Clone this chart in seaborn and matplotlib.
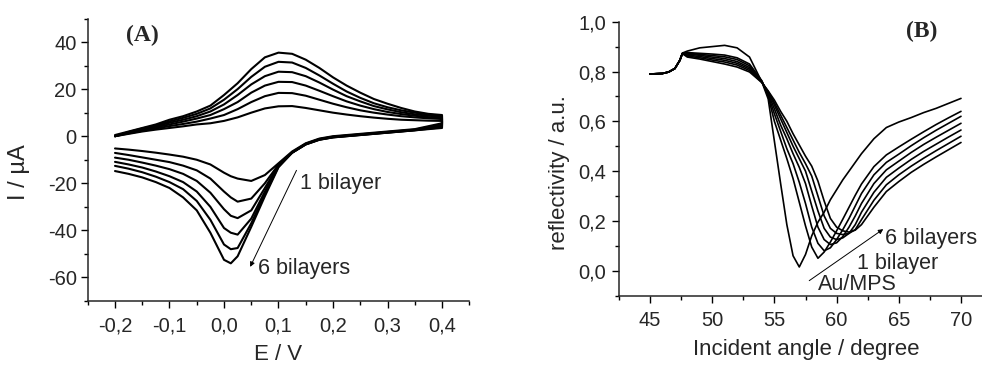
import numpy as np
import pandas as pd
import matplotlib
matplotlib.use("Agg")
import matplotlib.pyplot as plt
import seaborn as sns
from matplotlib.ticker import MultipleLocator, FuncFormatter

# ---------------- Panel A: cyclic voltammograms ----------------
E_anodic = [-0.2, -0.175, -0.15, -0.125, -0.1, -0.075, -0.05, -0.025, 0.0, 0.025,
            0.05, 0.075, 0.1, 0.125, 0.15, 0.175, 0.2, 0.225, 0.25, 0.275,
            0.3, 0.325, 0.35, 0.375, 0.4]
I_anodic_1 = [0, 1, 2, 2.8, 3.5, 4.2, 5, 5.5, 6.5, 8, 10, 11.8, 12.7, 12.8, 12, 11, 10, 9.2, 8.5, 7.9, 7.4, 7, 6.8, 6.6, 6.5]
I_anodic_2 = [0, 1.2, 2.3, 3.3, 4.3, 5.2, 6.2, 7.5, 9, 11.5, 14.5, 17, 18.4, 18.3, 17.2, 15.5, 13.8, 12.3, 11, 10, 9.2, 8.5, 8, 7.6, 7.3]
I_anodic_3 = [0, 1.5, 2.7, 3.8, 5, 6.2, 7.5, 9, 11.5, 14.5, 18.5, 21.5, 23.1, 23, 21.5, 19.3, 17, 14.8, 13, 11.5, 10.3, 9.4, 8.7, 8.1, 7.8]
I_anodic_4 = [0, 1.7, 3, 4.2, 5.7, 7, 8.5, 10.5, 13.5, 17.5, 22, 25.5, 27.4, 27.2, 25.5, 22.8, 19.8, 17, 14.8, 12.8, 11.4, 10.2, 9.3, 8.7, 8.3]
I_anodic_5 = [0, 1.8, 3.3, 4.6, 6.3, 7.8, 9.5, 11.8, 15.5, 20, 25.2, 29.5, 31.6, 31.3, 29, 25.8, 22.3, 19, 16.3, 14, 12.3, 11, 10, 9.2, 8.7]
I_anodic_6 = [0.5, 2, 3.5, 5, 7, 8.5, 10.5, 13, 17.5, 22.5, 28.5, 33.5, 35.5, 35, 32.5, 29, 25, 21.5, 18.5, 15.8, 13.8, 12, 10.5, 9.5, 9]

E_cathodic = [0.4, 0.35, 0.3, 0.25, 0.2, 0.175, 0.15, 0.125, 0.1, 0.075, 0.05, 0.025, 0.0125,
              0.0, -0.025, -0.05, -0.075, -0.1, -0.125, -0.15, -0.175, -0.2]
I_cathodic_1 = [5.5, 3.0, 2.0, 1.0, 0.0, -1.0, -3.0, -6.5, -11.5, -16.5, -19.0, -18.0, -17.0, -15.5, -12.0, -10.0, -8.7, -7.8, -7.0, -6.3, -5.7, -5.2]
I_cathodic_2 = [5.0, 2.8, 1.8, 0.8, -0.2, -1.2, -3.2, -6.8, -12.0, -20.0, -26.5, -27.8, -26.0, -23.5, -18.0, -14.5, -12.5, -11.0, -10.0, -9.0, -8.0, -7.1]
I_cathodic_3 = [4.6, 2.7, 1.7, 0.7, -0.3, -1.3, -3.3, -7.0, -12.3, -22.0, -31.5, -34.8, -33.8, -31.0, -24.0, -19.0, -16.0, -14.0, -12.5, -11.2, -10.0, -9.1]
I_cathodic_4 = [4.2, 2.6, 1.6, 0.6, -0.4, -1.4, -3.4, -7.0, -12.6, -23.5, -35.0, -41.8, -41.0, -39.0, -30.0, -23.5, -19.5, -17.0, -15.0, -13.3, -12.0, -10.9]
I_cathodic_5 = [3.8, 2.5, 1.5, 0.5, -0.5, -1.5, -3.5, -7.0, -12.9, -24.5, -37.0, -47.5, -48.0, -46.0, -35.5, -27.5, -22.5, -19.5, -17.2, -15.3, -13.8, -12.6]
I_cathodic_6 = [3.5, 2.5, 1.5, 0.5, -0.5, -1.5, -3.5, -7.0, -13.2, -25.5, -38.5, -51.0, -54.0, -52.5, -41.0, -31.5, -26.0, -22.0, -19.5, -17.5, -16.0, -14.8]

# ---------------- Panel B: SPR reflectivity curves ----------------
theta = [45, 46, 46.5, 47, 47.4, 47.6, 48, 49, 50, 51, 52, 53, 54,
         54.5, 55, 55.5, 56, 56.5, 57, 57.5, 58, 58.5, 59, 59.5, 60, 60.5, 61, 61.5, 62,
         63, 64, 65, 66, 67, 68, 69, 70]
R_AuMPS = [0.79, 0.792, 0.798, 0.812, 0.845, 0.874, 0.882, 0.895, 0.9, 0.905, 0.895, 0.858, 0.757,
           0.69, 0.52, 0.35, 0.185, 0.06, 0.015, 0.065, 0.14, 0.195, 0.235, 0.285, 0.325, 0.365, 0.4, 0.435, 0.47,
           0.53, 0.575, 0.597, 0.615, 0.635, 0.652, 0.672, 0.692]
R_bl1 = [0.79, 0.792, 0.798, 0.812, 0.845, 0.872, 0.876, 0.873, 0.87, 0.866, 0.855, 0.83, 0.762,
         0.70, 0.60, 0.525, 0.45, 0.37, 0.275, 0.18, 0.095, 0.05, 0.075, 0.115, 0.16, 0.207, 0.255, 0.303, 0.348,
         0.418, 0.465, 0.497, 0.528, 0.558, 0.587, 0.614, 0.64]
R_bl2 = [0.79, 0.792, 0.798, 0.812, 0.845, 0.872, 0.873, 0.869, 0.864, 0.859, 0.848, 0.823, 0.76,
         0.705, 0.63, 0.56, 0.49, 0.43, 0.355, 0.27, 0.175, 0.11, 0.08, 0.092, 0.125, 0.165, 0.21, 0.26, 0.31,
         0.385, 0.435, 0.468, 0.502, 0.534, 0.564, 0.592, 0.62]
R_bl3 = [0.79, 0.792, 0.798, 0.812, 0.845, 0.872, 0.87, 0.865, 0.858, 0.852, 0.84, 0.816, 0.758,
         0.71, 0.65, 0.585, 0.53, 0.47, 0.415, 0.35, 0.26, 0.175, 0.125, 0.105, 0.112, 0.137, 0.175, 0.22, 0.27,
         0.35, 0.405, 0.44, 0.475, 0.507, 0.536, 0.564, 0.592]
R_bl4 = [0.79, 0.792, 0.798, 0.812, 0.845, 0.872, 0.866, 0.86, 0.852, 0.845, 0.833, 0.81, 0.757,
         0.715, 0.665, 0.61, 0.555, 0.50, 0.45, 0.40, 0.32, 0.24, 0.17, 0.135, 0.125, 0.132, 0.15, 0.185, 0.235,
         0.315, 0.375, 0.412, 0.447, 0.479, 0.508, 0.537, 0.565]
R_bl5 = [0.79, 0.792, 0.798, 0.812, 0.845, 0.872, 0.862, 0.855, 0.846, 0.838, 0.826, 0.804, 0.756,
         0.72, 0.675, 0.625, 0.575, 0.525, 0.475, 0.43, 0.38, 0.30, 0.22, 0.17, 0.15, 0.145, 0.15, 0.165, 0.205,
         0.283, 0.345, 0.385, 0.42, 0.452, 0.482, 0.511, 0.54]
R_bl6 = [0.79, 0.792, 0.798, 0.812, 0.845, 0.872, 0.858, 0.85, 0.84, 0.83, 0.818, 0.798, 0.755,
         0.722, 0.685, 0.64, 0.60, 0.55, 0.505, 0.46, 0.42, 0.36, 0.28, 0.21, 0.175, 0.16, 0.155, 0.163, 0.185,
         0.255, 0.318, 0.358, 0.395, 0.427, 0.457, 0.486, 0.515]

# ---------------- build tables ----------------
anodic = [I_anodic_1, I_anodic_2, I_anodic_3, I_anodic_4, I_anodic_5, I_anodic_6]
cathodic = [I_cathodic_1, I_cathodic_2, I_cathodic_3, I_cathodic_4, I_cathodic_5, I_cathodic_6]
rows = []
for k, (a, c) in enumerate(zip(anodic, cathodic)):
    order = 0
    for e, i in zip(E_anodic, a):
        rows.append(dict(curve=k, order=order, E=e, I=i)); order += 1
    for e, i in zip(E_cathodic, c):
        rows.append(dict(curve=k, order=order, E=e, I=i)); order += 1
cv = pd.DataFrame(rows)

spr_series = {"Au/MPS": R_AuMPS, "1": R_bl1, "2": R_bl2, "3": R_bl3, "4": R_bl4, "5": R_bl5, "6": R_bl6}
spr = pd.concat([pd.DataFrame(dict(curve=n, theta=theta, R=v)) for n, v in spr_series.items()])

# ---------------- style ----------------
sns.set_style("ticks")
plt.rcParams['font.family'] = ['Liberation Sans', 'DejaVu Sans']
plt.rcParams['axes.linewidth'] = 1.1

W, H = 982, 365
fig = plt.figure(figsize=(W / 100, H / 100), dpi=100)

def px_axes(x0, x1, ytop, ybot):
    return fig.add_axes([x0 / W, 1 - ybot / H, (x1 - x0) / W, (ybot - ytop) / H])

axA = px_axes(87.75, 469.25, 18.5, 301.0)
axB = px_axes(618.9, 992.1, 21.7, 295.6)

for k in range(6):
    sub = cv[cv.curve == k].sort_values("order")
    sns.lineplot(data=sub, x="E", y="I", sort=False, estimator=None, color="black",
                 lw=1.5, ax=axA, legend=False)
for n in spr_series:
    sub = spr[spr.curve == n]
    sns.lineplot(data=sub, x="theta", y="R", sort=False, estimator=None, color="black",
                 lw=1.2, ax=axB, legend=False)

axA.set_xlim(-0.25, 0.45)
axA.set_ylim(-70, 50)
axB.set_xlim(42.5, 72.5)
axB.set_ylim(-0.1, 1.0)

comma1 = FuncFormatter(lambda v, p: f"{v:.1f}".replace(".", ",").replace("-0,0", "0,0"))
axA.xaxis.set_major_locator(MultipleLocator(0.1))
axA.xaxis.set_minor_locator(MultipleLocator(0.05))
axA.xaxis.set_major_formatter(comma1)
axA.yaxis.set_major_locator(MultipleLocator(20))
axA.yaxis.set_minor_locator(MultipleLocator(10))
axA.yaxis.set_major_formatter(FuncFormatter(lambda v, p: f"{int(round(v))}"))

axB.xaxis.set_major_locator(MultipleLocator(5))
axB.xaxis.set_minor_locator(MultipleLocator(2.5))
axB.xaxis.set_major_formatter(FuncFormatter(lambda v, p: f"{int(round(v))}"))
axB.yaxis.set_major_locator(MultipleLocator(0.2))
axB.yaxis.set_minor_locator(MultipleLocator(0.1))
axB.yaxis.set_major_formatter(comma1)

for ax, fs in ((axA, 14.5), (axB, 14.5)):
    sns.despine(ax=ax)
    ax.set_xlabel("")
    ax.set_ylabel("")
    ax.tick_params(which="major", direction="out", length=5, width=1.0, labelsize=fs, color="black")
    ax.tick_params(which="minor", direction="out", length=3, width=1.0, color="black")
axA.tick_params(axis="y", pad=3)
axA.tick_params(axis="x", pad=6)
axB.tick_params(axis="y", pad=4)
axB.tick_params(axis="x", pad=6)

# axis titles
fig.text(278 / W, 1 - 355 / H, "E / V", ha="center", va="center", fontsize=16)
fig.text(19 / W, 1 - 172 / H, "I / µA", ha="center", va="center", rotation=90, fontsize=17)
fig.text(806 / W, 1 - 350 / H, "Incident angle / degree", ha="center", va="center", fontsize=16)
fig.text(560 / W, 1 - 173 / H, "reflectivity / a.u.", ha="center", va="center", rotation=90, fontsize=16)

# panel letters
serif = ['Liberation Serif', 'DejaVu Serif']
axA.text(-0.149, 43, "(A)", ha="center", va="center", fontsize=17, fontweight="bold", family=serif)
axB.text(66.84, 0.96, "(B)", ha="center", va="center", fontsize=17, fontweight="bold", family=serif)

# annotations panel A
axA.annotate("", xy=(0.048, -55.5), xytext=(0.133, -14.5),
             arrowprops=dict(arrowstyle="-|>", lw=0.7, color="black", mutation_scale=7, shrinkA=0, shrinkB=0))
axA.text(0.139, -19.9, "1 bilayer", ha="left", va="center", fontsize=15.5)
axA.text(0.063, -56.3, "6 bilayers", ha="left", va="center", fontsize=15.5)

# annotations panel B
axB.annotate("", xy=(63.75, 0.167), xytext=(57.8, -0.04),
             arrowprops=dict(arrowstyle="-|>", lw=0.7, color="black", mutation_scale=7, shrinkA=0, shrinkB=0))
axB.text(63.9, 0.13, "6 bilayers", ha="left", va="center", fontsize=15.5)
axB.text(61.6, 0.03, "1 bilayer", ha="left", va="center", fontsize=15.5)
axB.text(58.5, -0.057, "Au/MPS", ha="left", va="center", fontsize=15.5, clip_on=False)

fig.savefig("out.png", dpi=100)
